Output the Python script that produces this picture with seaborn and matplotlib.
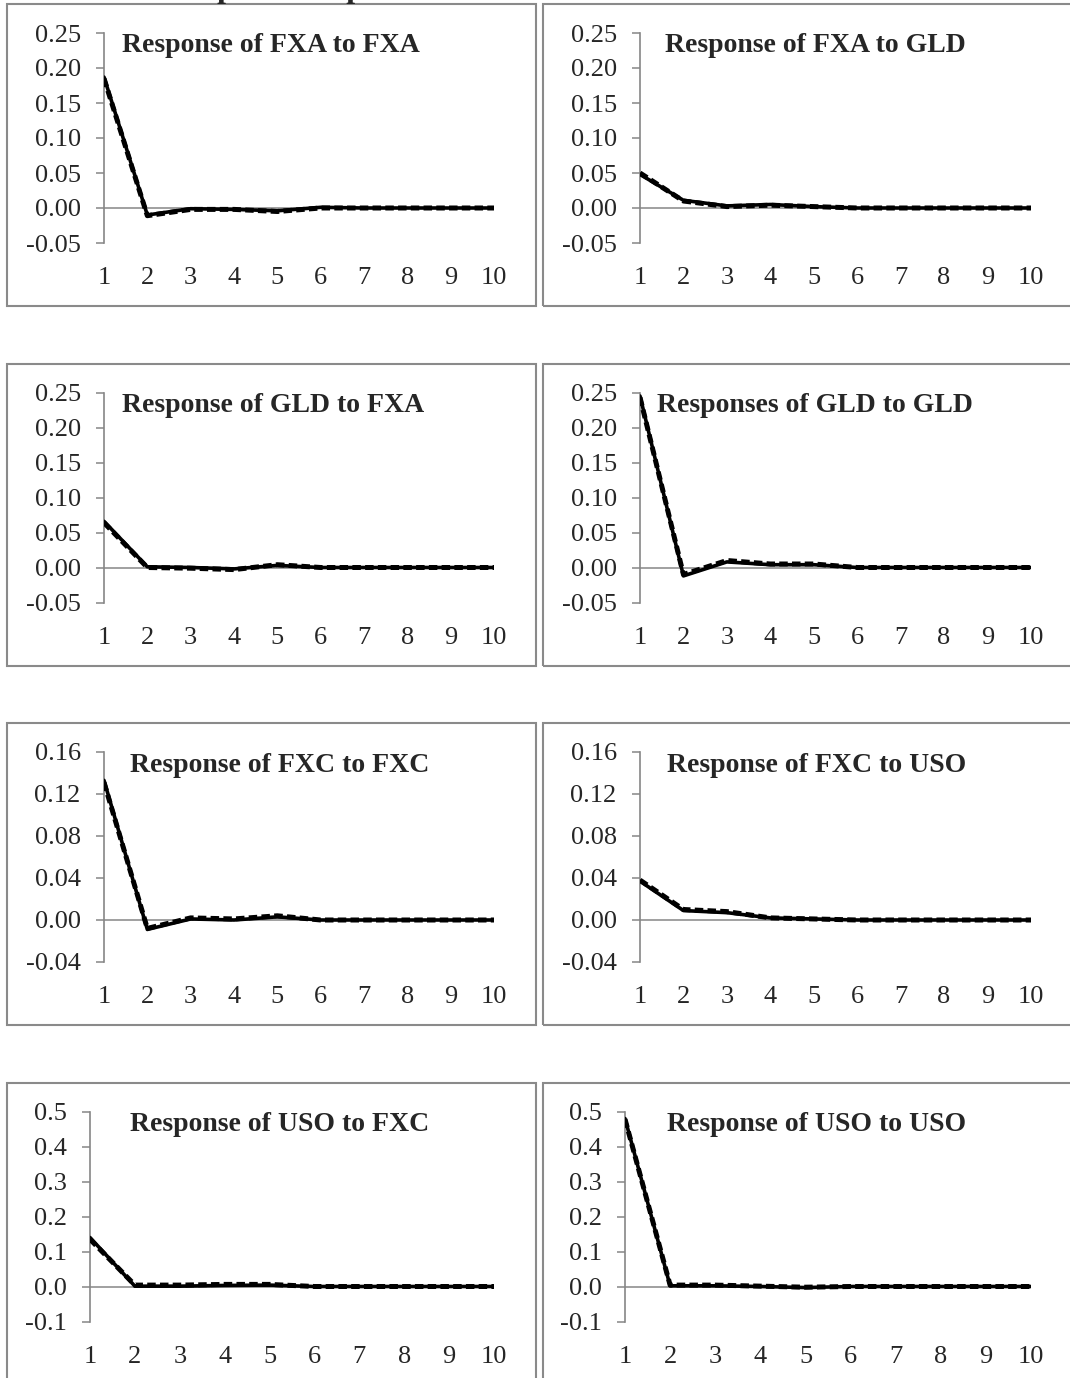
import matplotlib
matplotlib.use("Agg")
import matplotlib.pyplot as plt
from matplotlib.patches import Rectangle
from matplotlib.ticker import FixedLocator, FuncFormatter
import seaborn as sns
import pandas as pd

sns.set_style("white")
plt.rcParams['font.family'] = ['Liberation Serif', 'DejaVu Serif']

# ---------------- data ----------------
periods = [1, 2, 3, 4, 5, 6, 7, 8, 9, 10]

titles = ["Response of FXA to FXA", "Response of FXA to GLD",
          "Response of GLD to FXA", "Responses of GLD to GLD",
          "Response of FXC to FXC", "Response of FXC to USO",
          "Response of USO to FXC", "Response of USO to USO"]

fxa_fxa_solid = [0.187, -0.010, -0.001, -0.002, -0.004, 0.001, 0.000, 0.000, 0.000, 0.000]
fxa_fxa_dash  = [0.185, -0.011, -0.002, -0.002, -0.005, 0.000, 0.000, 0.000, 0.000, 0.000]
fxa_gld_solid = [0.048, 0.011, 0.003, 0.005, 0.002, 0.000, 0.000, 0.000, 0.000, 0.000]
fxa_gld_dash  = [0.050, 0.010, 0.002, 0.004, 0.002, 0.000, 0.000, 0.000, 0.000, 0.000]
gld_fxa_solid = [0.066, 0.001, 0.000, -0.002, 0.003, 0.000, 0.000, 0.000, 0.000, 0.000]
gld_fxa_dash  = [0.064, 0.000, -0.001, -0.003, 0.004, 0.000, 0.000, 0.000, 0.000, 0.000]
gld_gld_solid = [0.245, -0.012, 0.008, 0.004, 0.004, 0.000, 0.000, 0.000, 0.000, 0.000]
gld_gld_dash  = [0.243, -0.010, 0.010, 0.005, 0.005, 0.000, 0.000, 0.000, 0.000, 0.000]
fxc_fxc_solid = [0.133, -0.009, 0.001, 0.000, 0.003, 0.000, 0.000, 0.000, 0.000, 0.000]
fxc_fxc_dash  = [0.131, -0.008, 0.002, 0.001, 0.004, 0.000, 0.000, 0.000, 0.000, 0.000]
fxc_uso_solid = [0.037, 0.009, 0.007, 0.002, 0.001, 0.000, 0.000, 0.000, 0.000, 0.000]
fxc_uso_dash  = [0.038, 0.010, 0.008, 0.002, 0.001, 0.000, 0.000, 0.000, 0.000, 0.000]
uso_fxc_solid = [0.140, 0.001, 0.001, 0.003, 0.004, 0.000, 0.000, 0.000, 0.000, 0.000]
uso_fxc_dash  = [0.135, 0.004, 0.004, 0.006, 0.006, 0.000, 0.000, 0.000, 0.000, 0.000]
uso_uso_solid = [0.480, 0.002, 0.002, 0.000, -0.003, 0.000, 0.000, 0.000, 0.000, 0.000]
uso_uso_dash  = [0.478, 0.004, 0.004, 0.001, -0.002, 0.000, 0.000, 0.000, 0.000, 0.000]

solid_series = [fxa_fxa_solid, fxa_gld_solid, gld_fxa_solid, gld_gld_solid,
                fxc_fxc_solid, fxc_uso_solid, uso_fxc_solid, uso_uso_solid]
dash_series = [fxa_fxa_dash, fxa_gld_dash, gld_fxa_dash, gld_gld_dash,
               fxc_fxc_dash, fxc_uso_dash, uso_fxc_dash, uso_uso_dash]

row_yticks = [[-0.05, 0.00, 0.05, 0.10, 0.15, 0.20, 0.25],
              [-0.05, 0.00, 0.05, 0.10, 0.15, 0.20, 0.25],
              [-0.04, 0.00, 0.04, 0.08, 0.12, 0.16],
              [-0.1, 0.0, 0.1, 0.2, 0.3, 0.4, 0.5]]
row_decimals = [2, 2, 2, 1]

# ---------------- layout ----------------
W, H = 1070, 1378
fig = plt.figure(figsize=(W / 100, H / 100), dpi=100)


def fx(p):
    return p / W


def fy(p):
    return 1 - p / H


GRAY = '#868686'
row_step = 359.5

# heading at the very top, cut off by the page edge as in the source
fig.text(fx(178), fy(-3), "Impulse Responses", fontsize=23, fontweight='bold',
         ha='left', va='baseline')

for i in range(8):
    r, c = divmod(i, 2)
    top = 33 + row_step * r
    bot = 243 + row_step * r
    if c == 0:
        left = 90 if r == 3 else 104
        right = 494
        box_l, box_r = 7, 536
        title_x = 130 if r >= 2 else 122
    else:
        left = 625 if r == 3 else 640
        right = 1031
        box_l, box_r = 543, 1080
        title_x = 667 if r >= 2 else (657 if r == 1 else 665)

    # panel frame
    btop = 4 + row_step * r
    bbot = 306 + row_step * r
    fig.patches.append(Rectangle((fx(box_l), fy(bbot)), (box_r - box_l) / W,
                                 (bbot - btop) / H, transform=fig.transFigure,
                                 fill=False, edgecolor='#8a8a8a', lw=1.5, zorder=0))

    ax = fig.add_axes([fx(left), fy(bot), (right - left) / W, (bot - top) / H])
    ax.set_facecolor('none')
    yt = row_yticks[r]
    ax.set_xlim(1, 10)
    ax.set_ylim(yt[0], yt[-1])
    ax.axhline(0, color=GRAY, lw=1.1, zorder=1)

    df = pd.DataFrame({"period": periods, "solid": solid_series[i], "dash": dash_series[i]})
    sns.lineplot(data=df, x="period", y="solid", ax=ax, color='black', lw=2.6,
                 legend=False, zorder=3)
    sns.lineplot(data=df, x="period", y="dash", ax=ax, color='black', lw=3.6,
                 linestyle=(0, (1.7, 0.85)), legend=False, zorder=4)

    for s in ['top', 'right', 'bottom']:
        ax.spines[s].set_visible(False)
    ax.spines['left'].set_color(GRAY)
    ax.spines['left'].set_linewidth(1.2)

    dec = row_decimals[r]
    ax.yaxis.set_major_locator(FixedLocator(yt))
    ax.yaxis.set_major_formatter(FuncFormatter(lambda v, p, d=dec: f"{v:.{d}f}".replace('−', '-')))
    ax.xaxis.set_major_locator(FixedLocator(periods))
    ax.xaxis.set_major_formatter(FuncFormatter(lambda v, p: f"{int(round(v))}"))
    ax.tick_params(axis='y', which='major', direction='out', length=5.8, width=1.1,
                   color=GRAY, pad=11, labelsize=19, left=True)
    ax.tick_params(axis='x', which='major', length=0, pad=17.5, labelsize=19, bottom=True)
    ax.set_xlabel("")
    ax.set_ylabel("")
    ax.grid(False)

    fig.text(fx(title_x), fy(top + 13), titles[i], fontsize=20, fontweight='bold',
             ha='left', va='center')

fig.savefig("out.png", dpi=100)
